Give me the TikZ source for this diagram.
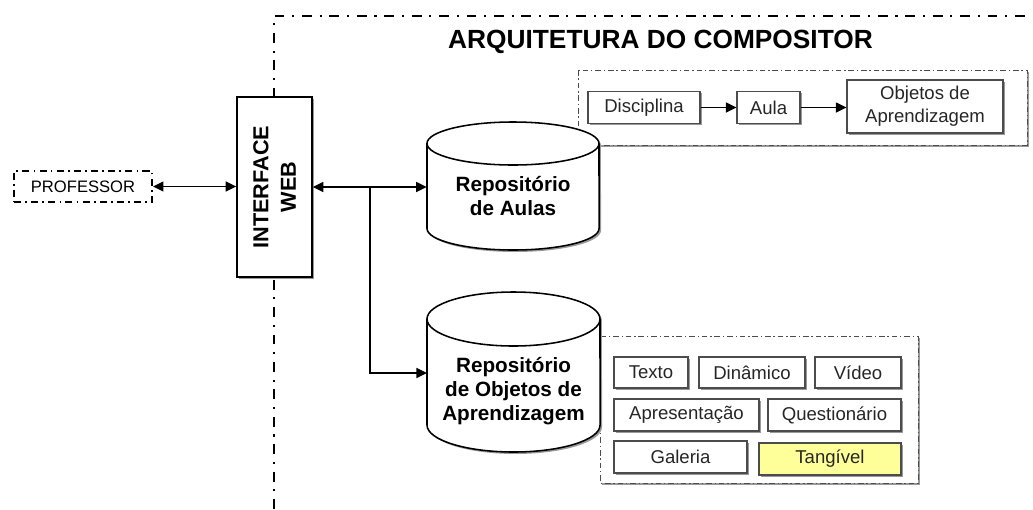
\documentclass[tikz,border=0pt]{standalone}
\usepackage{fontspec}
\setmainfont{Liberation Sans}
\usetikzlibrary{shadows,arrows.meta}

\begin{document}
\begin{tikzpicture}[x=.025cm,y=-.025cm,
  >={Triangle[length=7.5pt,width=7pt]},
  conn/.style={line width=1.3pt},
  shd/.style={drop shadow={shadow xshift=1.4pt,shadow yshift=-1.4pt,fill=black!40,opacity=1}},
  grp/.style={draw=black!70,fill=white,line width=.7pt,dash pattern=on 4pt off 2pt on 1pt off 2pt,shd},
  item/.style={draw=black!70,fill=white,line width=.8pt,inner sep=0pt,minimum height=.8cm,
    text=black!85,align=center,font=\fontsize{13.2}{16.6}\selectfont,shd},
  cyl/.style={draw,fill=white,line width=1.1pt,shd},
  repo/.style={inner sep=0pt,minimum width=4.3cm,align=center,font=\bfseries\fontsize{14.7}{17}\selectfont}]
\useasboundingbox (0,0) rectangle (1033,509);

\draw[line width=1.4pt,dash pattern=on 7pt off 5.5pt on 1.5pt off 5.5pt] (274,509) -- (274,16) -- (1030,16);
\node[font=\bfseries\fontsize{18.7}{22}\selectfont] (title) at (660.5,42) {ARQUITETURA DO COMPOSITOR};

\node[draw,fill=white,line width=1.1pt,minimum width=1.875cm,minimum height=4.5cm,shd] (iweb) at (274.5,187) {};
\node[rotate=90,align=center,font=\bfseries\fontsize{15.4}{19.5}\selectfont] (iwebtxt) at (iweb) {INTERFACE\\WEB};

\node[draw,line width=1.3pt,dash pattern=on 5pt off 3pt on 1.2pt off 3pt,minimum width=3.45cm,minimum height=.775cm,
  inner sep=0pt,font=\fontsize{11.8}{13}\selectfont] (prof) at (83,186.5) {PROFESSOR};

% grupo das aulas
\draw[grp] (578,70) rectangle (1027,145);
\node[item,minimum width=2.8cm] (disc) at (644,107.5) {Disciplina};
\node[item,minimum width=1.575cm] (aula) at (768.5,107.5) {Aula};
\node[item,minimum width=3.9cm,minimum height=1.325cm] (objs) at (925,106.5) {Objetos de\\Aprendizagem};

% grupo dos objetos
\draw[grp] (600,336) rectangle (918,483);
\node[item,minimum width=1.85cm,minimum height=.775cm] (texto) at (651,372.5) {Texto};
\node[item,minimum width=2.65cm,minimum height=.775cm] (dinam) at (752,372.5) {Dinâmico};
\node[item,minimum width=2.15cm,minimum height=.775cm] (video) at (858,372.5) {Vídeo};
\node[item,minimum width=3.625cm] (apres) at (686.5,415) {Apresentação};
\node[item,minimum width=3.325cm] (quest) at (834.5,415) {Questionário};
\node[item,minimum width=3.325cm] (gal) at (680.5,457) {Galeria};
\node[item,minimum width=3.55cm,fill={rgb,255:red,255;green,255;blue,153}] (tang) at (830,459) {Tangível};

% repositorios
\draw[cyl] (427,143.5) -- (427,228.5) arc (180:360:2.15cm and .5375cm) -- (599,143.5) arc (0:180:2.15cm and .5375cm) -- cycle
  (427,143.5) arc (180:360:2.15cm and .5375cm);
\node[repo] (repAulas) at (513,196) {Repositório\\de Aulas};

\draw[cyl] (427,319) -- (427,425) arc (180:360:2.1625cm and .675cm) -- (600,319) arc (0:180:2.1625cm and .675cm) -- cycle
  (427,319) arc (180:360:2.1625cm and .675cm);
\node[repo] (repObj) at (513.5,391) {Repositório\\de Objetos de\\Aprendizagem};
\coordinate (repObjIn) at (427,373);

\coordinate (split) at (370,187);
\draw[conn,<->] (prof.east) -- (prof.east -| iweb.west);
\draw[conn,<->] (iweb.east) -- (iweb.east -| repAulas.west);
\draw[conn,->] (split) |- (repObjIn);
\draw[conn,->] (disc.east) -- (aula.west);
\draw[conn,->] (aula.east) -- (aula.east -| objs.west);
\end{tikzpicture}
\end{document}
